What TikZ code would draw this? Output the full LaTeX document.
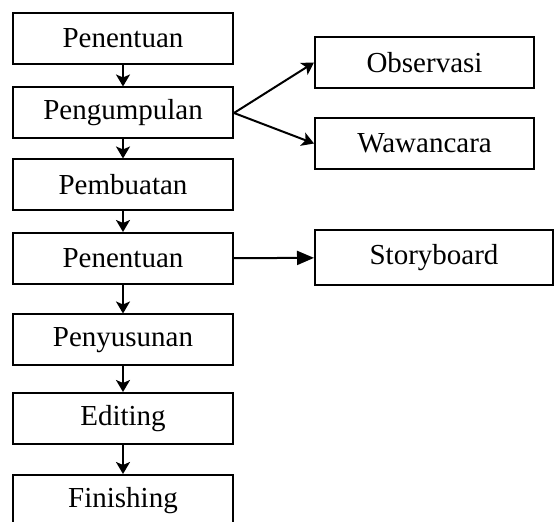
\documentclass[tikz,border=0pt]{standalone}
\usepackage{fontspec}
\setmainfont{Liberation Serif}
\usetikzlibrary{arrows.meta}
\begin{document}
\begin{tikzpicture}[x=0.5pt,y=-0.5pt,
 kotak/.style={shape=rectangle,draw=black,line width=1pt,minimum width=110pt,minimum height=25.5pt,inner sep=0pt,font=\fontsize{14.5}{17}\selectfont},
 panah/.style={line width=1pt,-{Stealth[length=6pt,width=7pt,inset=1.5pt]}},
 panahkanan/.style={line width=1pt,-{Triangle[length=8.5pt,width=7pt]}}]
 \useasboundingbox (0,0) rectangle (555,522);
 \clip (0,0) rectangle (555,522);
 \node (box 1) at (123,38.5) [kotak] {Penentuan};
 \node (box 2) at (123,113) [kotak] {Pengumpulan};
 \node (box 3) at (123,185) [kotak] {Pembuatan};
 \node (box 4) at (123,258.5) [kotak] {Penentuan};
 \node (box 5) at (123,340) [kotak] {Penyusunan};
 \node (box 6) at (123,418.5) [kotak] {Editing};
 \node (box 7) at (123,500.5) [kotak] {Finishing};
 \node (box 8) at (424.5,62.5) [kotak,minimum width=109.5pt] {Observasi};
 \node (box 9) at (424.5,143.5) [kotak,minimum width=109.5pt] {Wawancara};
 \node (box 10) at (434,257.5) [kotak,minimum width=119pt,minimum height=27.5pt] {Storyboard};
 \draw[panah] (box 1) -- (box 2);
 \draw[panah] (box 2) -- (box 3);
 \draw[panah] (box 3) -- (box 4);
 \draw[panah] (box 4) -- (box 5);
 \draw[panah] (box 5) -- (box 6);
 \draw[panah] (box 6) -- (box 7);
 \draw[panah] (box 2.east) -- (box 8.west);
 \draw[panah] (box 2.east) -- (box 9.west);
 \draw[panahkanan] (box 4) -- (box 10);
\end{tikzpicture}
\end{document}
